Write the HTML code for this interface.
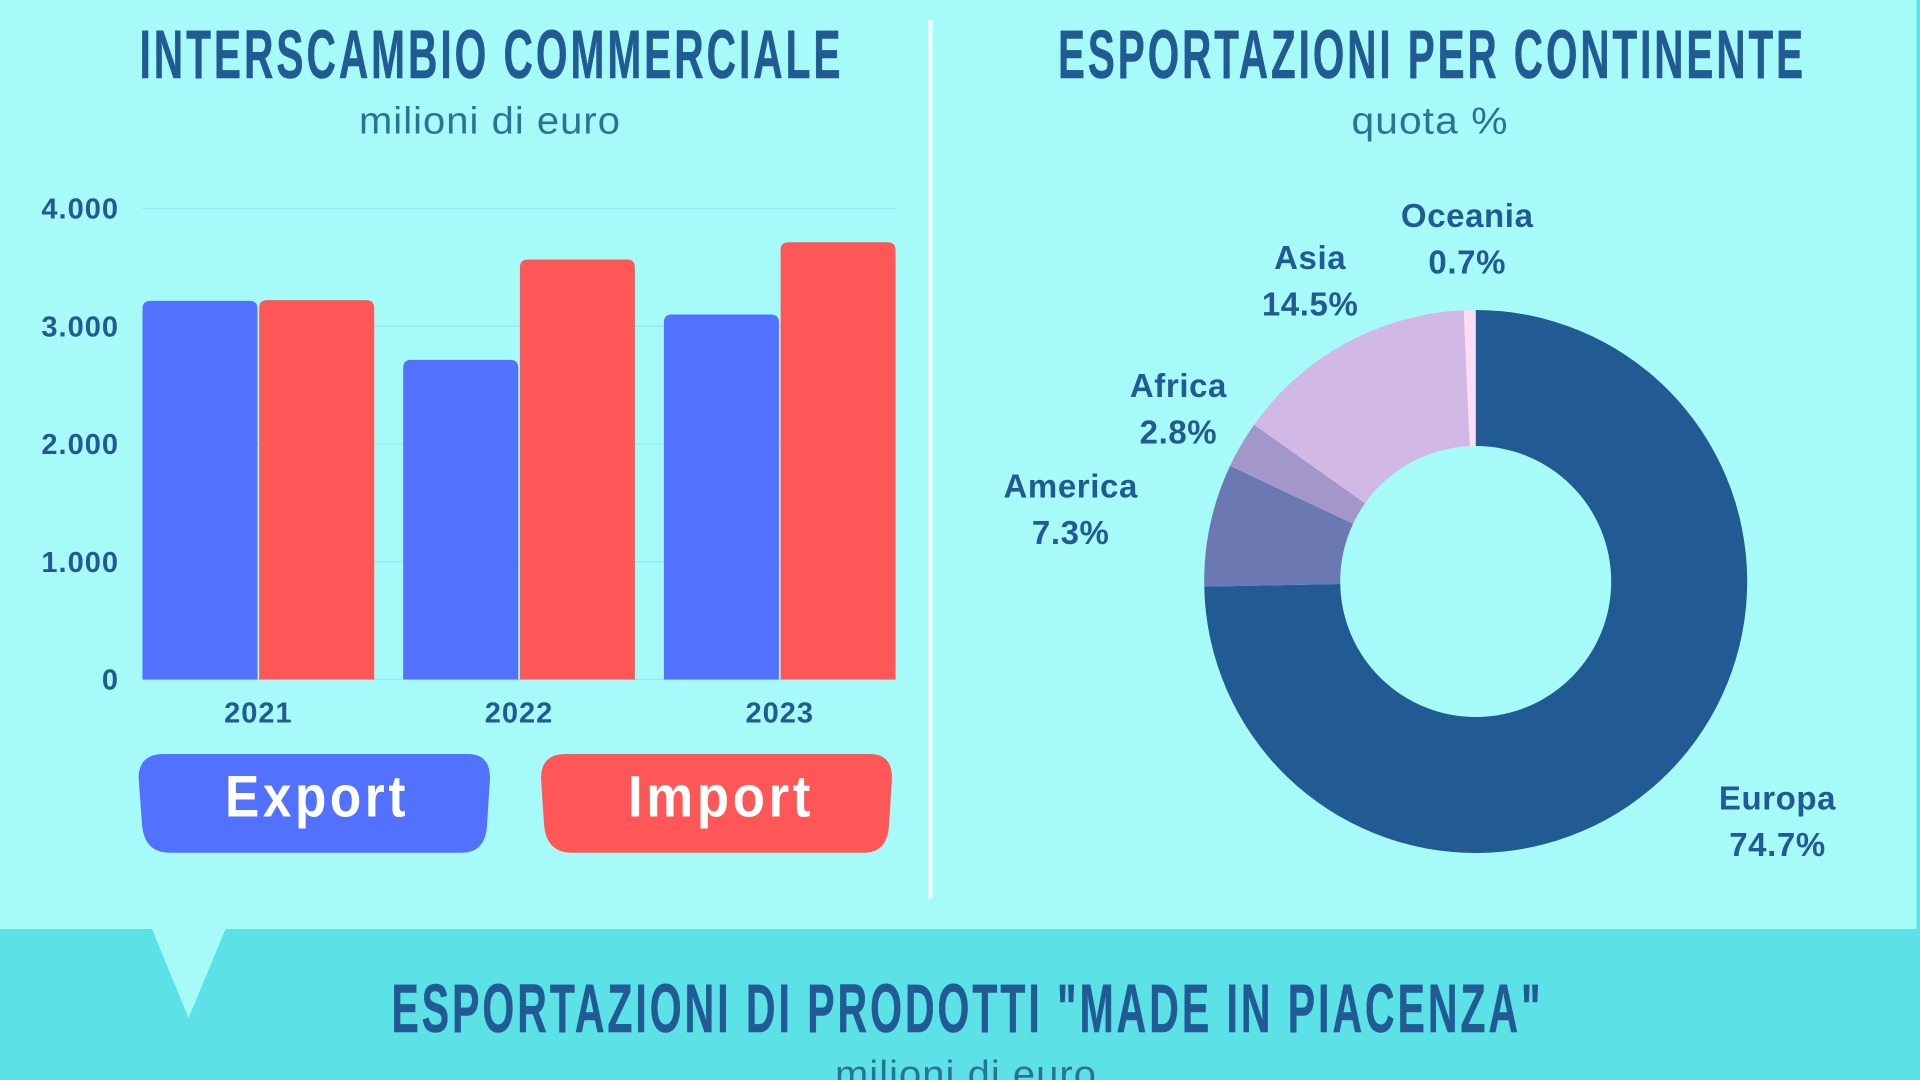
<!DOCTYPE html>
<html lang="it">
<head>
<meta charset="utf-8">
<title>Interscambio commerciale</title>
<style>
  html, body { margin: 0; padding: 0; width: 1920px; height: 1080px; overflow: hidden; background: #a6fbf9; }
  svg { display: block; }
  text { font-family: "Liberation Sans", sans-serif; }
  .title { font-size: 68.6px; font-weight: 700; fill: #225b93; stroke: #225b93; stroke-width: 0.5px; letter-spacing: 5px; }
  .sub { font-size: 38px; font-weight: 400; fill: #2b7396; letter-spacing: 1px; }
  .tick { font-size: 29px; font-weight: 700; fill: #225b93; letter-spacing: 1px; }
  .slice-label { font-size: 33px; font-weight: 700; fill: #225b93; letter-spacing: 0.6px; }
  .legend-text { font-size: 58px; font-weight: 700; fill: #ffffff; letter-spacing: 4px; }
</style>
</head>
<body>
<svg id="page" width="1920" height="1080" viewBox="0 0 1920 1080" xmlns="http://www.w3.org/2000/svg">
  <rect x="0" y="0" width="1920" height="1080" fill="#a6fbf9"/>
  <rect x="1916.5" y="0" width="3.5" height="930" fill="#5ce1e6"/>
  <rect x="0" y="929" width="1920" height="151" fill="#5ce1e6"/>
  <polygon points="152,929 225.5,929 188.6,1018" fill="#a6fbf9"/>
  <rect x="928.5" y="20" width="4" height="879" fill="#f2fffe"/>

  <text class="title" x="139.5" y="78" textLength="704" lengthAdjust="spacingAndGlyphs">INTERSCAMBIO COMMERCIALE</text>
  <text class="sub" x="359" y="133.6" textLength="262" lengthAdjust="spacingAndGlyphs">milioni di euro</text>
  <text class="title" x="1058" y="78" textLength="748" lengthAdjust="spacingAndGlyphs">ESPORTAZIONI PER CONTINENTE</text>
  <text class="sub" x="1351.5" y="133.6" textLength="157" lengthAdjust="spacingAndGlyphs">quota %</text>
  <text class="title" x="391.5" y="1032" textLength="1152" lengthAdjust="spacingAndGlyphs">ESPORTAZIONI DI PRODOTTI "MADE IN PIACENZA"</text>
  <text class="sub" x="835" y="1087" textLength="262" lengthAdjust="spacingAndGlyphs">milioni di euro</text>

  <g id="bar-chart"></g>
  <g id="donut-chart"></g>

  <g>
    <path d="M164,754 L468,754 Q490,754 490,778 L487,826 Q485,852.7 462,852.7 L170,852.7 Q144,852.7 142,824 L138.6,778 Q138.6,754 164,754 Z" fill="#5271ff"/>
    <text class="legend-text" x="225" y="816.7" textLength="184" lengthAdjust="spacingAndGlyphs">Export</text>
  </g>
  <g>
    <path d="M566,754 L870,754 Q892,754 892,778 L889,826 Q887,852.7 864,852.7 L572,852.7 Q546,852.7 544,824 L541,778 Q541,754 566,754 Z" fill="#ff5757"/>
    <text class="legend-text" x="628" y="816.7" textLength="186" lengthAdjust="spacingAndGlyphs">Import</text>
  </g>
</svg>

<script>
// ---- Chart data ----
const years = ['2021', '2022', '2023'];
const exportValues = [3216, 2714, 3100];
const importValues = [3222, 3567, 3713];
const yTickValues = [0, 1000, 2000, 3000, 4000];
const yTickLabels = ['0', '1.000', '2.000', '3.000', '4.000'];
const continents = ['Europa', 'America', 'Africa', 'Asia', 'Oceania'];
const shares = [74.7, 7.3, 2.8, 14.5, 0.7];

// ---- Layout & style (not data) ----
const SVG_NS = 'http://www.w3.org/2000/svg';
const plot = { left: 142, right: 896, base: 679.5, unit: 471 / 4000 };
const band = { start: 142.5, step: 260.7, width: 115, gap: 1.7, radius: 8 };
const donut = { cx: 1475.7, cy: 581.5, outer: 271.5, inner: 135.5 };
const sliceColors = ['#225b93', '#6b78b2', '#a397ca', '#d2b9e5', '#fddcf5'];
const labelNudge = [[108, 37.6], [-139.5, -27.2], [-62.7, -48], [-35.5, -74.4], [-2.5, -83]];
const labelLineGap = 46.6;

function make(tag, parent) {
  const el = document.createElementNS(SVG_NS, tag);
  parent.appendChild(el);
  return el;
}
function yScale(v) { return plot.base - v * plot.unit; }
function groupX(i) { return band.start + i * band.step; }
function barX(i, s) { return groupX(i) + s * (band.width + band.gap); }
function pointAt(fraction, r) {
  const a = fraction * 2 * Math.PI;
  return [donut.cx + r * Math.sin(a), donut.cy - r * Math.cos(a)];
}

const barGroup = document.getElementById('bar-chart');

yTickValues.forEach(function (v, i) {
  const line = make('line', barGroup);
  
  
  line.setAttribute('x1', plot.left);
  line.setAttribute('x2', plot.right);
  line.setAttribute('y1', yScale(v));
  line.setAttribute('y2', yScale(v));
  line.setAttribute('stroke', '#90ecec');
  line.setAttribute('stroke-width', '1.2');

  const label = make('text', barGroup);
  
  
  label.setAttribute('class', 'tick');
  label.setAttribute('x', 119);
  label.setAttribute('y', yScale(v) + 10);
  label.setAttribute('text-anchor', 'end');
  label.textContent = yTickLabels[i];
});

function drawBar(i, s, value, color, seriesName) {
  const x = barX(i, s);
  const y = yScale(value);
  const r = band.radius;
  const w = band.width;
  const bar = make('path', barGroup);
  
  
  bar.setAttribute('fill', color);
  bar.setAttribute('d',
    'M' + x + ',' + plot.base +
    ' L' + x + ',' + (y + r) +
    ' Q' + x + ',' + y + ' ' + (x + r) + ',' + y +
    ' L' + (x + w - r) + ',' + y +
    ' Q' + (x + w) + ',' + y + ' ' + (x + w) + ',' + (y + r) +
    ' L' + (x + w) + ',' + plot.base + ' Z');
}

years.forEach(function (year, i) {
  drawBar(i, 0, exportValues[i], '#5271ff', 'export');
  drawBar(i, 1, importValues[i], '#ff5757', 'import');

  const label = make('text', barGroup);
  
  
  label.setAttribute('class', 'tick');
  label.setAttribute('x', groupX(i) + band.width + band.gap / 2);
  label.setAttribute('y', 722.5);
  label.setAttribute('text-anchor', 'middle');
  label.textContent = year;
});

const donutGroup = document.getElementById('donut-chart');
const shareTotal = shares.reduce(function (a, b) { return a + b; }, 0);
let cumulative = 0;

continents.forEach(function (name, i) {
  const startF = cumulative / shareTotal;
  const endF = (cumulative + shares[i]) / shareTotal;
  const midF = (startF + endF) / 2;
  cumulative += shares[i];

  const p1 = pointAt(startF, donut.outer);
  const p2 = pointAt(endF, donut.outer);
  const p3 = pointAt(endF, donut.inner);
  const p4 = pointAt(startF, donut.inner);
  const large = endF - startF > 0.5 ? 1 : 0;

  const slice = make('path', donutGroup);
  
  
  slice.setAttribute('fill', sliceColors[i]);
  slice.setAttribute('d',
    'M' + p1[0] + ',' + p1[1] +
    ' A' + donut.outer + ',' + donut.outer + ' 0 ' + large + ' 1 ' + p2[0] + ',' + p2[1] +
    ' L' + p3[0] + ',' + p3[1] +
    ' A' + donut.inner + ',' + donut.inner + ' 0 ' + large + ' 0 ' + p4[0] + ',' + p4[1] + ' Z');

  const rim = pointAt(midF, donut.outer);
  const lx = rim[0] + labelNudge[i][0];
  const ly = rim[1] + labelNudge[i][1];

  const nameLabel = make('text', donutGroup);
  
  
  nameLabel.setAttribute('class', 'slice-label');
  nameLabel.setAttribute('x', lx);
  nameLabel.setAttribute('y', ly);
  nameLabel.setAttribute('text-anchor', 'middle');
  nameLabel.textContent = name;

  const valueLabel = make('text', donutGroup);
  
  
  valueLabel.setAttribute('class', 'slice-label');
  valueLabel.setAttribute('x', lx);
  valueLabel.setAttribute('y', ly + labelLineGap);
  valueLabel.setAttribute('text-anchor', 'middle');
  valueLabel.textContent = shares[i].toFixed(1) + '%';
});
</script>
</body>
</html>
